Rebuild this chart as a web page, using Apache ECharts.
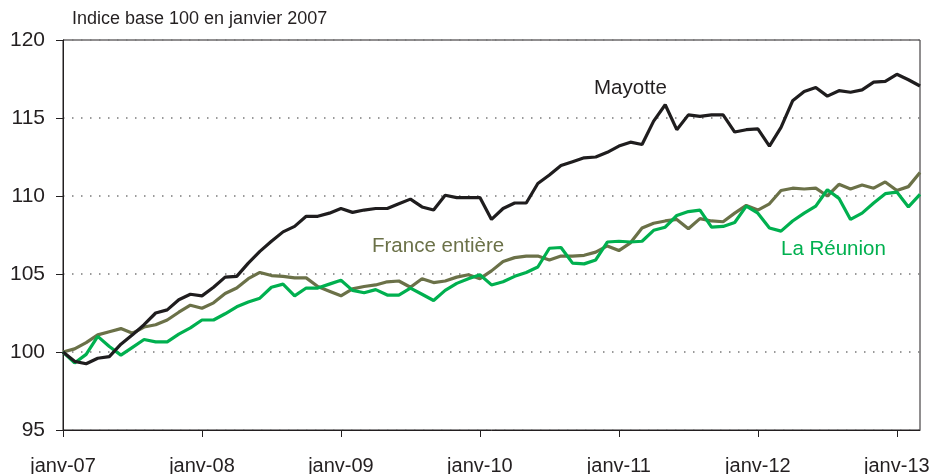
<!DOCTYPE html>
<html style="height: 100%">
<head>
<meta charset="utf-8">
<script src="https://cdn.jsdelivr.net/npm/echarts@6/dist/echarts.min.js"></script>
</head>
<body style="height: 100%; margin: 0; background: #fff">
<div id="container" style="width: 930px; height: 474px"></div>
<script type="text/javascript">
// month labels, Jan 2007 -> Mar 2013
var monthNames = ['janv', 'févr', 'mars', 'avr', 'mai', 'juin', 'juil', 'août', 'sept', 'oct', 'nov', 'déc'];
var years = ['07', '08', '09', '10', '11', '12', '13'];
var months = [];
years.forEach(function (y) {
    monthNames.forEach(function (m) { months.push(m + '-' + y); });
});
months = months.slice(0, 75);

var mayotte = [
    100, 99.4, 99.25, 99.6, 99.7, 100.5, 101.1, 101.75, 102.5, 102.7, 103.35, 103.7,
    103.6, 104.15, 104.8, 104.85, 105.7, 106.45, 107.1, 107.7, 108.05, 108.7, 108.7, 108.9,
    109.2, 108.95, 109.1, 109.2, 109.2, 109.5, 109.8, 109.3, 109.1, 110.05, 109.9, 109.9,
    109.9, 108.5, 109.2, 109.55, 109.55, 110.8, 111.35, 111.95, 112.2, 112.45, 112.5, 112.8,
    113.2, 113.45, 113.3, 114.8, 115.85, 114.25, 115.2, 115.1, 115.2, 115.2, 114.1, 114.25,
    114.3, 113.2, 114.4, 116.1, 116.7, 116.95, 116.4, 116.75, 116.65, 116.8, 117.3, 117.35,
    117.8, 117.45, 117.05
];
var france = [
    100, 100.2, 100.6, 101.1, 101.3, 101.5, 101.2, 101.6, 101.75, 102.05, 102.55, 103.0,
    102.8, 103.15, 103.75, 104.1, 104.7, 105.1, 104.9, 104.85, 104.75, 104.75, 104.2, 103.9,
    103.6, 104.05, 104.2, 104.3, 104.5, 104.55, 104.15, 104.7, 104.45, 104.55, 104.8, 104.95,
    104.7, 105.2, 105.8, 106.05, 106.15, 106.15, 105.9, 106.15, 106.15, 106.2, 106.4, 106.8,
    106.5, 107.0, 107.95, 108.25, 108.4, 108.5, 107.9, 108.55, 108.4, 108.35, 108.9, 109.4,
    109.1, 109.5, 110.35, 110.5, 110.45, 110.5, 110.0, 110.75, 110.45, 110.7, 110.5, 110.9,
    110.35, 110.6, 111.5
];
var reunion = [
    100, 99.3, 99.85, 101.0, 100.35, 99.8, 100.3, 100.8, 100.65, 100.65, 101.15, 101.55,
    102.05, 102.05, 102.45, 102.9, 103.2, 103.45, 104.15, 104.35, 103.6, 104.1, 104.1, 104.35,
    104.6, 103.95, 103.8, 104.0, 103.65, 103.65, 104.1, 103.7, 103.3, 103.95, 104.4, 104.7,
    104.95, 104.3, 104.5, 104.85, 105.1, 105.45, 106.65, 106.7, 105.7, 105.65, 105.9, 107.05,
    107.1, 107.05, 107.1, 107.8, 108.0, 108.75, 109.0, 109.1, 108.0, 108.05, 108.3, 109.35,
    108.9, 107.95, 107.75, 108.4, 108.9, 109.35, 110.4, 109.85, 108.5, 108.9, 109.55, 110.15,
    110.25, 109.3, 110.1
];

var dom = document.getElementById('container');
var myChart = echarts.init(dom);
var font = '"Liberation Sans", Arial, sans-serif';

function line(name, data, color) {
    return {
        name: name,
        type: 'line',
        data: data,
        symbol: 'none',
        lineStyle: { color: color, width: 3.2 },
        itemStyle: { color: color },
        z: 5
    };
}

var option = {
    animation: false,
    grid: {
        left: 63, top: 40, right: 10, bottom: 44,
        outerBoundsMode: 'none',
        show: true, borderColor: '#231f20', borderWidth: 1, backgroundColor: 'transparent'
    },
    xAxis: {
        type: 'category',
        data: months,
        boundaryGap: false,
        axisLine: { lineStyle: { color: '#231f20', width: 1 } },
        axisTick: { interval: 11, length: 7, lineStyle: { color: '#231f20' } },
        axisLabel: {
            interval: 11, margin: 26, color: '#231f20', fontSize: 20, fontFamily: font,
            hideOverlap: false
        },
        splitLine: { show: false }
    },
    yAxis: {
        type: 'value',
        min: 95, max: 120, interval: 5,
        axisLine: { show: true, lineStyle: { color: '#231f20', width: 1 } },
        axisTick: { show: true, length: 7, lineStyle: { color: '#231f20' } },
        axisLabel: { margin: 18, color: '#231f20', fontSize: 21, fontFamily: font },
        splitLine: { show: true, lineStyle: { color: '#7a7a7a', type: [1.5, 7.5], width: 1.5 } }
    },
    graphic: [
        { type: 'text', left: 72, top: 10,
          style: { text: 'Indice base 100 en janvier 2007', fill: '#231f20', font: '18px ' + font } },
        { type: 'text', left: 594, top: 78,
          style: { text: 'Mayotte', fill: '#231f20', font: '20.5px ' + font } },
        { type: 'text', left: 372, top: 236,
          style: { text: 'France entière', fill: '#6b7148', font: '20.5px ' + font } },
        { type: 'text', left: 781, top: 239,
          style: { text: 'La Réunion', fill: '#00b04f', font: '20.5px ' + font } }
    ],
    series: [
        line('France entière', france, '#6b7148'),
        line('La Réunion', reunion, '#00b04f'),
        line('Mayotte', mayotte, '#1f1d1e')
    ]
};

myChart.setOption(option);
</script>
</body>
</html>
